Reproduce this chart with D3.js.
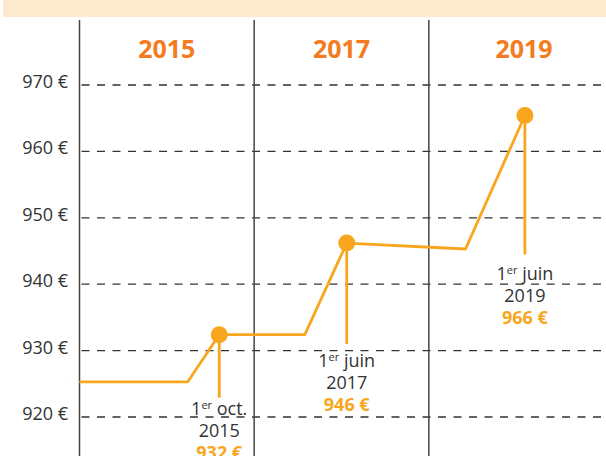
<!DOCTYPE html>
<html>
<head>
<meta charset="utf-8">
<script src="https://cdn.jsdelivr.net/npm/d3@7"></script>
<style>
  body { margin: 0; background: #fff; }
  svg { display: block; font-family: "Open Sans", sans-serif; }
</style>
</head>
<body>
<div id="chart-area"></div>
<script>
// periods (columns) and tick values
var periods = ["2015", "2017", "2019"];
var yTicks = [920, 930, 940, 950, 960, 970];

// step line: position in columns (0..3) and amount in euros
var stepPos = [0, 0.62, 0.80, 1.29, 1.53, 2.21, 2.55];
var stepAmount = [925.3, 925.3, 932.4, 932.4, 946.2, 945.3, 965.4];

// revaluations (index into the step line)
var revalIndex = [2, 4, 6];
var revalDay = ["oct.", "juin", "juin"];
var revalYear = ["2015", "2017", "2019"];
var revalAmount = ["932 €", "946 €", "966 €"];

var width = 606, height = 456;
var lineColor = "#f7a61e", headColor = "#f47b20";

var svg = d3.select("#chart-area").append("svg")
    .attr("width", width)
    .attr("height", height);

var x = d3.scaleLinear().domain([0, 3]).range([79.5, 603.5]);
var y = d3.scaleLinear().domain([920, 970]).range([417, 85]);

// last column runs past the right edge
var colEdges = [0, 1, 2, 3.09];

// top banner
svg.append("rect").attr("x", 3).attr("y", 0).attr("width", width - 3).attr("height", 17).attr("fill", "#fde9cc");

// dashed gridlines
svg.selectAll("line.grid")
    .data(yTicks)
    .enter().append("line")
    .attr("class", "grid")
    .attr("x1", x(0) + 2).attr("x2", width)
    .attr("y1", d => y(d)).attr("y2", d => y(d))
    .attr("stroke", "#333")
    .attr("stroke-width", 1.3)
    .attr("stroke-dasharray", "8,7.5");

// y labels
svg.selectAll("text.ylab")
    .data(yTicks)
    .enter().append("text")
    .attr("class", "ylab")
    .attr("x", 68)
    .attr("y", d => y(d) + 3)
    .attr("text-anchor", "end")
    .attr("font-size", "18px")
    .attr("fill", "#333")
    .text(d => d + " €");

// column separators
svg.selectAll("line.col")
    .data(periods)
    .enter().append("line")
    .attr("class", "col")
    .attr("x1", (d, i) => x(i)).attr("x2", (d, i) => x(i))
    .attr("y1", 20).attr("y2", height)
    .attr("stroke", "#444")
    .attr("stroke-width", 1.5);

// column headers
svg.selectAll("text.head")
    .data(periods)
    .enter().append("text")
    .attr("class", "head")
    .attr("x", (d, i) => x((colEdges[i] + colEdges[i + 1]) / 2))
    .attr("y", 58)
    .attr("text-anchor", "middle")
    .attr("font-size", "25px")
    .attr("font-weight", "bold")
    .attr("fill", headColor)
    .text(d => d);

// step line
var pts = stepPos.map((p, i) => [x(p), y(stepAmount[i])]);
svg.append("path")
    .attr("d", d3.line()(pts))
    .attr("fill", "none")
    .attr("stroke", lineColor)
    .attr("stroke-width", 2.8)
    .attr("stroke-linejoin", "round");

// leaders + labels
var leaderDrop = [63, 101, 139];
var labelGap = [17, 23, 25];

revalIndex.forEach((k, i) => {
    var cx = x(stepPos[k]), cy = y(stepAmount[k]);
    var g = svg.append("g");
    g.append("line")
        .attr("x1", cx).attr("x2", cx)
        .attr("y1", cy).attr("y2", cy + leaderDrop[i])
        .attr("stroke", lineColor)
        .attr("stroke-width", 2.8);
    g.append("circle")
        .attr("cx", cx).attr("cy", cy)
        .attr("r", 8.5)
        .attr("fill", lineColor);

    var ty = cy + leaderDrop[i] + labelGap[i];
    var t1 = g.append("text")
        .attr("x", cx).attr("y", ty)
        .attr("text-anchor", "middle")
        .attr("font-size", "18px")
        .attr("fill", "#333");
    t1.append("tspan").text("1");
    t1.append("tspan").attr("font-size", "11px").attr("dy", -6).text("er");
    t1.append("tspan").attr("dy", 6).text(" " + revalDay[i]);

    g.append("text")
        .attr("x", cx).attr("y", ty + 22)
        .attr("text-anchor", "middle")
        .attr("font-size", "18px")
        .attr("fill", "#333")
        .text(revalYear[i]);

    g.append("text")
        .attr("x", cx).attr("y", ty + 44)
        .attr("text-anchor", "middle")
        .attr("font-size", "18px")
        .attr("font-weight", "bold")
        .attr("fill", lineColor)
        .text(revalAmount[i]);
});
</script>
</body>
</html>
